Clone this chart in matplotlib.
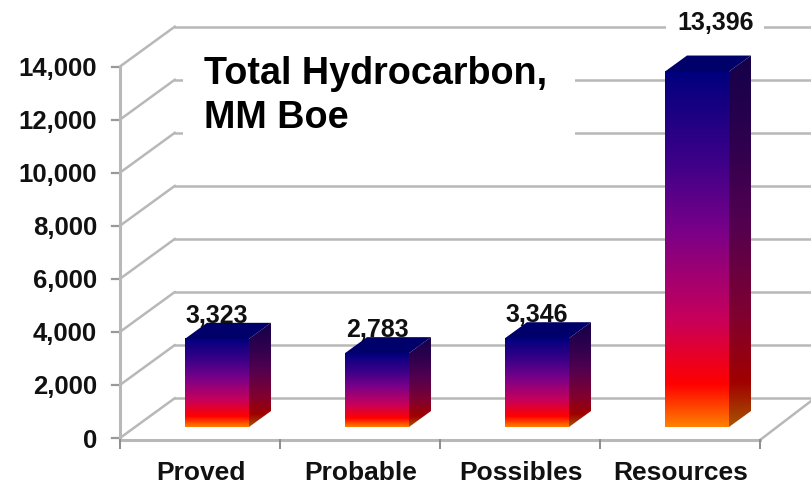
import numpy as np
import matplotlib
matplotlib.use("Agg")
import matplotlib.pyplot as plt
from matplotlib.colors import LinearSegmentedColormap
from matplotlib.patches import Polygon, Rectangle

categories = ["Proved", "Probable", "Possibles", "Resources"]
values = [3323, 2783, 3346, 13396]
value_labels = ["3,323", "2,783", "3,346", "13,396"]
y_ticks = [0, 2000, 4000, 6000, 8000, 10000, 12000, 14000]
y_tick_labels = ["0", "2,000", "4,000", "6,000", "8,000", "10,000", "12,000", "14,000"]
title_text = "Total Hydrocarbon,\nMM Boe"

W, H = 811, 484
PX_X = 160.0            # pixels per category
PX_Y = 371.5 / 14000    # pixels per unit value
fig = plt.figure(figsize=(W / 100, H / 100), dpi=100)
ax = fig.add_axes([0, 0, 1, 1])
ax.set_xlim(-120 / PX_X, (W - 120) / PX_X)
ax.set_ylim(-(H - 438) / PX_Y, 438 / PX_Y)
ax.axis("off")
plt.rcParams["font.family"] = ["Liberation Sans", "DejaVu Sans"]

wall_dx, wall_dy = 55 / PX_X, 40 / PX_Y
grid = "#b8b8b8"
n = len(categories)
right = (W - 120) / PX_X

# back wall, side wall and floor
for t in y_ticks:
    ax.plot([0, wall_dx], [t, t + wall_dy], color=grid, lw=1.8, zorder=1, solid_capstyle="round")
    ax.plot([wall_dx, right], [t + wall_dy, t + wall_dy], color=grid, lw=1.8, zorder=1)
    ax.plot([-8 / PX_X, 0], [t, t], color="#999999", lw=1.6, zorder=1)
ax.plot([0, 0], [-2 / PX_Y, 14000], color=grid, lw=2.2, zorder=1)
ax.plot([0, n], [-2 / PX_Y, -2 / PX_Y], color=grid, lw=2.2, zorder=1)
ax.plot([n, n + wall_dx], [-2 / PX_Y, wall_dy], color=grid, lw=1.8, zorder=1)
for i in range(n + 1):
    ax.plot([i, i], [-2 / PX_Y, -10 / PX_Y], color="#8c8c8c", lw=1.4, zorder=1)

# white panel behind the title
ax.add_patch(Rectangle(((183 - 120) / PX_X, (438 - 150) / PX_Y), (575 - 183) / PX_X, 100 / PX_Y,
                       fc="white", ec="none", zorder=2))

# gradient bars
front = LinearSegmentedColormap.from_list("bar", [
    (0.00, "#00007e"), (0.25, "#3c0088"), (0.45, "#7a0088"),
    (0.70, "#c8005a"), (0.88, "#ff0000"), (1.00, "#ff8000")])
side = LinearSegmentedColormap.from_list("side", [
    (0.00, "#14004a"), (0.25, "#30004e"), (0.45, "#520050"),
    (0.70, "#800030"), (0.88, "#a00000"), (1.00, "#a85400")])
grad = np.linspace(0, 1, 256).reshape(-1, 1)
base = 11 / PX_Y
bar_w = 64 / PX_X
bar_shift = 17 / PX_X
bar_dx, bar_dy = 22 / PX_X, 16 / PX_Y
for i, (v, lab) in enumerate(zip(values, value_labels)):
    x0 = i + 0.5 + bar_shift - bar_w / 2
    x1 = x0 + bar_w
    y0, y1 = base, base + v
    ax.imshow(grad, cmap=front, extent=(x0, x1, y0, y1), aspect="auto", zorder=3)
    im = ax.imshow(grad, cmap=side, extent=(x1, x1 + bar_dx, y0, y1 + bar_dy),
                   aspect="auto", zorder=3)
    im.set_clip_path(Polygon([(x1, y0), (x1 + bar_dx, y0 + bar_dy), (x1 + bar_dx, y1 + bar_dy),
                              (x1, y1)], transform=ax.transData))
    ax.add_patch(Polygon([(x0, y1), (x1, y1), (x1 + bar_dx, y1 + bar_dy), (x0 + bar_dx, y1 + bar_dy)],
                         fc="#00006a", ec="none", zorder=3))
    tx = (x0 + x1) / 2
    if v > 10000:
        # label sits on the top gridline with a white backing
        ty = 14000 + wall_dy + 4 / PX_Y
        tx += 19 / PX_X
        ax.add_patch(Rectangle((tx - 50 / PX_X, ty - 14 / PX_Y), 98 / PX_X, 28 / PX_Y,
                               fc="white", ec="none", zorder=2))
    else:
        ty = y1 + bar_dy + 7 / PX_Y
    ax.text(tx, ty, lab, ha="center", va="center",
            fontsize=18, fontweight="bold", color="#111111", zorder=5)

for t, lab in zip(y_ticks, y_tick_labels):
    ax.text(-23 / PX_X, t - 2.5 / PX_Y, lab, ha="right", va="center", fontsize=18.5,
            fontweight="bold", color="#111111")
for i, c in enumerate(categories):
    ax.text(i + 0.5 + 1 / PX_X, -35 / PX_Y, c, ha="center", va="center", fontsize=19,
            fontweight="bold", color="#111111")

ax.text((204 - 120) / PX_X, (438 - 96) / PX_Y, title_text, ha="left", va="center",
        fontsize=27.2, fontweight="bold", color="black", linespacing=1.27, zorder=5)

fig.savefig("out.png", dpi=100)
